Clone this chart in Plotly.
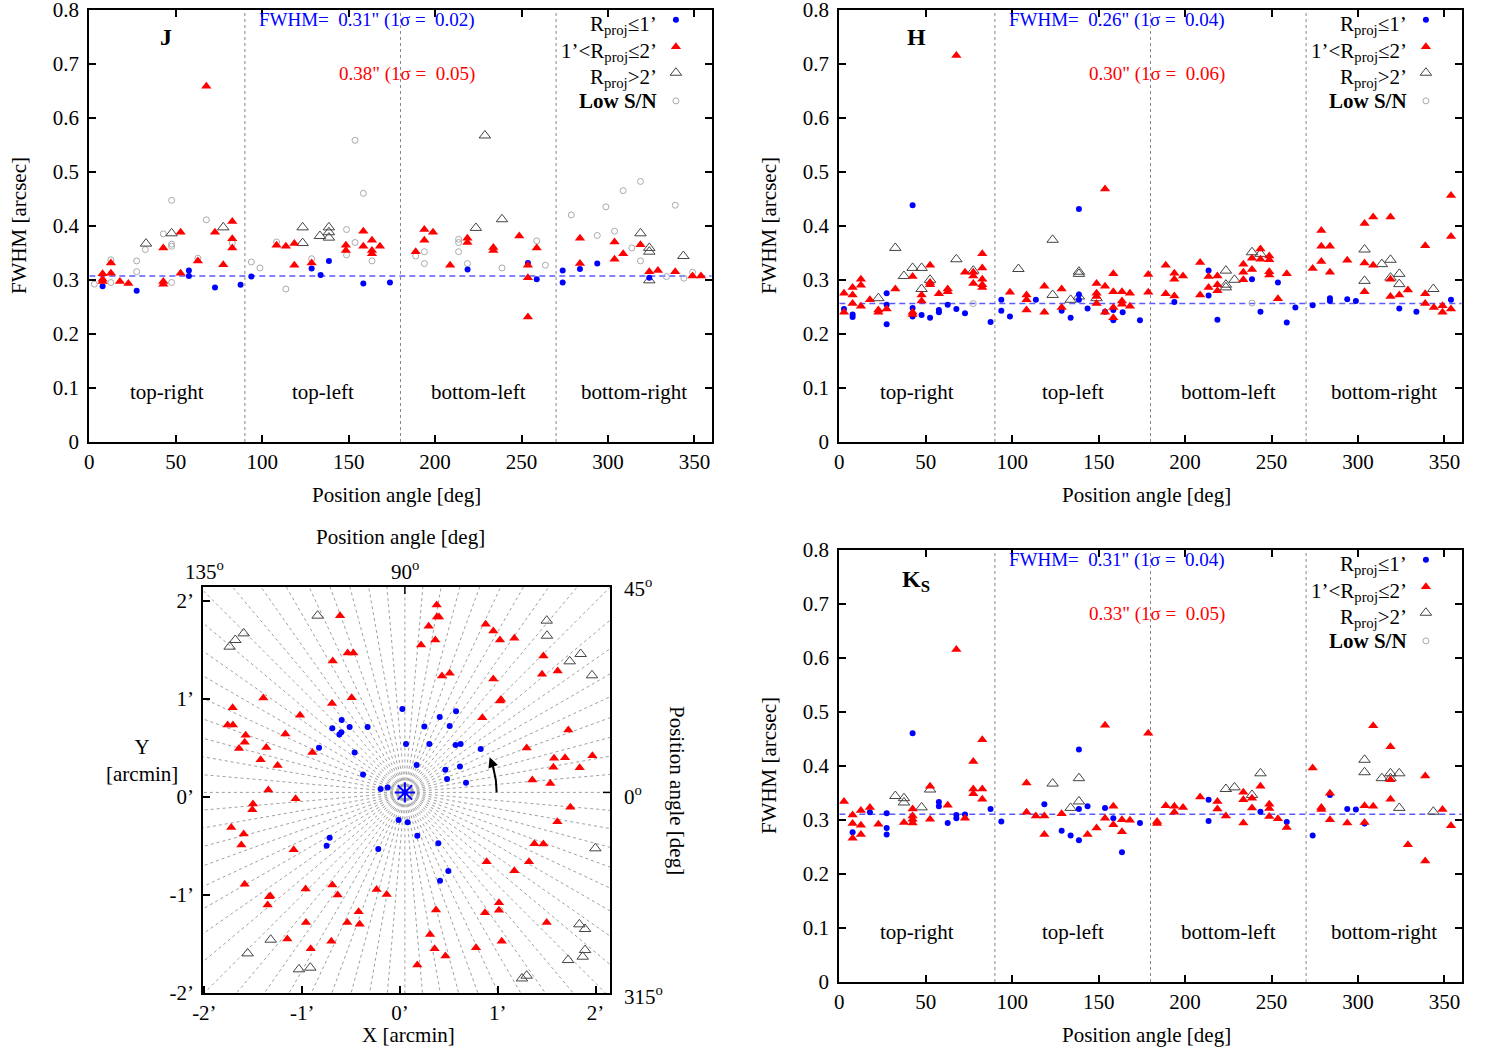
import numpy as np
import plotly.graph_objects as go

FONT = "Liberation Serif"
W, H = 1500, 1050

# ---------------- data: (position angle [deg], FWHM [arcsec]) ----------------
J_inner = [(7.7,0.288),(27.4,0.280),(57.6,0.317),(57.6,0.307),(72.7,0.286),(87.5,0.291),(93.7,0.306),
           (128.6,0.321),(133.8,0.309),(138.6,0.335),(158.5,0.293),(173.9,0.295),(218.8,0.319),(253.7,0.331),
           (258.8,0.301),(273.8,0.317),(273.8,0.295),(283.8,0.320),(293.8,0.330),(323.9,0.304)]
J_mid = [(7.7,0.311),(7.7,0.301),(7.7,0.297),(12.5,0.331),(12.5,0.312),(17.7,0.297),(22.6,0.293),(42.8,0.359),
         (42.8,0.297),(42.8,0.292),(52.8,0.388),(52.8,0.312),(62.8,0.335),(67.7,0.658),(72.7,0.388),(77.5,0.328),
         (82.7,0.408),(82.7,0.376),(82.7,0.359),(108.3,0.364),(113.7,0.362),(118.6,0.367),(118.6,0.327),
         (128.6,0.331),(148.4,0.364),(148.4,0.354),(158.5,0.390),(158.5,0.362),(163.5,0.373),(163.5,0.354),
         (163.5,0.348),(168.1,0.362),(188.8,0.352),(193.8,0.373),(193.8,0.393),(198.8,0.388),(208.7,0.327),
         (218.7,0.377),(218.7,0.369),(233.7,0.360),(233.7,0.354),(248.7,0.381),(253.7,0.327),(253.7,0.304),
         (253.7,0.231),(258.8,0.359),(283.8,0.377),(283.8,0.330),(303.8,0.370),(303.8,0.338),(308.8,0.348),
         (318.8,0.365),(323.9,0.315),(328.9,0.317),(338.9,0.315),(348.9,0.307),(353.8,0.307)]
J_far = [(32.8,0.367),(47.6,0.386),(77.5,0.397),(123.4,0.397),(123.4,0.368),(133.4,0.381),(138.6,0.397),
         (138.6,0.388),(138.6,0.378),(223.6,0.396),(228.8,0.567),(238.7,0.412),(318.8,0.386),(323.9,0.359),
         (323.9,0.352),(323.9,0.299),(343.6,0.344)]
J_low = [(2.9,0.292),(12.5,0.337),(12.5,0.295),(27.4,0.335),(27.4,0.315),(32.4,0.356),(42.8,0.385),(47.6,0.447),
         (47.6,0.366),(47.6,0.362),(47.6,0.295),(62.8,0.340),(67.7,0.411),(82.7,0.368),(93.7,0.333),(98.7,0.322),
         (108.3,0.370),(113.7,0.283),(128.6,0.339),(148.8,0.393),(148.8,0.346),(153.7,0.558),(153.7,0.369),
         (158.5,0.460),(163.5,0.335),(188.8,0.344),(193.8,0.352),(193.8,0.330),(213.6,0.375),(213.6,0.369),
         (213.6,0.352),(218.7,0.330),(238.7,0.322),(258.8,0.372),(263.8,0.327),(278.8,0.420),(293.8,0.382),
         (298.8,0.435),(303.8,0.390),(308.8,0.465),(313.8,0.359),(318.8,0.482),(318.8,0.335),(333.8,0.306),
         (338.9,0.438),(343.9,0.303),(348.9,0.314)]

H_inner = [(2.7,0.246),(7.7,0.236),(7.7,0.231),(27.4,0.275),(27.4,0.254),(27.4,0.218),(42.4,0.438),(42.4,0.248),
           (42.4,0.232),(47.6,0.235),(52.5,0.230),(57.6,0.244),(57.6,0.240),(62.7,0.254),(67.7,0.246),(72.7,0.238),
           (87.5,0.222),(93.7,0.263),(93.7,0.243),(98.7,0.232),(113.7,0.263),(128.6,0.243),(133.8,0.230),
           (138.6,0.431),(138.6,0.273),(138.6,0.263),(143.6,0.247),(153.7,0.241),(158.5,0.244),(158.5,0.225),
           (163.9,0.240),(173.9,0.225),(193.8,0.259),(213.6,0.317),(213.6,0.271),(218.7,0.226),(238.7,0.301),
           (243.6,0.241),(253.7,0.295),(258.8,0.221),(263.8,0.249),(273.8,0.253),(283.8,0.266),(283.8,0.261),
           (293.8,0.264),(298.8,0.261),(323.9,0.247),(333.8,0.241),(353.8,0.263)]
H_mid = [(2.7,0.275),(2.7,0.240),(7.7,0.286),(7.7,0.272),(7.7,0.256),(12.5,0.301),(12.5,0.290),(12.5,0.251),
         (17.7,0.263),(22.6,0.244),(22.6,0.240),(27.4,0.246),(32.4,0.283),(42.4,0.306),(42.4,0.240),(42.4,0.236),
         (47.6,0.272),(47.6,0.261),(52.5,0.327),(52.5,0.295),(52.5,0.291),(57.6,0.274),(62.7,0.283),(62.7,0.278),
         (67.7,0.715),(72.7,0.314),(77.5,0.314),(77.5,0.307),(77.5,0.293),(82.7,0.348),(82.7,0.322),(82.7,0.301),
         (82.7,0.291),(82.7,0.286),(98.7,0.277),(108.3,0.272),(108.3,0.263),(108.3,0.244),(118.6,0.288),
         (118.6,0.240),(128.6,0.283),(128.6,0.249),(148.8,0.293),(148.8,0.275),(148.8,0.269),(148.8,0.256),
         (153.7,0.468),(153.7,0.288),(153.7,0.240),(158.5,0.311),(158.5,0.278),(158.5,0.249),(158.5,0.230),
         (163.5,0.278),(163.5,0.261),(163.5,0.255),(168.1,0.275),(168.1,0.251),(178.7,0.310),(178.7,0.277),
         (188.8,0.327),(188.8,0.274),(193.8,0.312),(193.8,0.301),(193.8,0.270),(198.8,0.307),(208.7,0.332),
         (208.7,0.272),(213.6,0.306),(213.6,0.286),(218.7,0.307),(218.7,0.291),(218.7,0.280),(233.7,0.329),
         (233.7,0.314),(233.7,0.300),(238.7,0.340),(238.7,0.319),(243.6,0.357),(243.6,0.338),(248.7,0.344),
         (248.7,0.337),(248.7,0.315),(248.7,0.309),(253.7,0.265),(258.8,0.311),(273.8,0.321),(278.8,0.391),
         (278.8,0.362),(278.8,0.334),(283.8,0.362),(283.8,0.314),(293.8,0.336),(303.8,0.404),(303.8,0.331),
         (303.8,0.278),(308.8,0.416),(308.8,0.327),(318.8,0.416),(318.8,0.301),(318.8,0.269),(323.9,0.272),
         (328.9,0.281),(338.9,0.363),(338.9,0.274),(338.9,0.256),(343.9,0.249),(348.9,0.252),(348.9,0.240),
         (353.8,0.456),(353.8,0.380),(353.8,0.246)]
H_far = [(22.6,0.266),(32.4,0.359),(37.4,0.307),(42.4,0.322),(47.6,0.322),(47.6,0.283),(52.5,0.300),(67.7,0.338),
         (77.5,0.317),(103.6,0.320),(123.4,0.374),(123.4,0.272),(133.8,0.263),(138.6,0.315),(138.6,0.311),
         (138.6,0.269),(148.8,0.266),(223.6,0.317),(223.6,0.291),(223.6,0.286),(228.6,0.300),(238.7,0.351),
         (243.6,0.348),(303.8,0.356),(303.8,0.298),(313.8,0.329),(318.8,0.337),(318.8,0.304),(323.9,0.311),
         (323.9,0.292),(343.6,0.283)]
H_low = [(77.5,0.256),(238.7,0.257)]

K_inner = [(7.7,0.277),(17.7,0.314),(27.4,0.312),(27.4,0.285),(27.4,0.273),(42.4,0.460),(42.4,0.298),(57.6,0.333),
           (57.6,0.325),(62.7,0.294),(67.7,0.309),(67.7,0.303),(72.7,0.310),(87.5,0.320),(93.7,0.297),(118.6,0.329),
           (128.6,0.280),(133.8,0.271),(138.6,0.430),(138.6,0.320),(138.6,0.262),(143.6,0.325),(153.7,0.322),
           (158.5,0.303),(163.5,0.240),(173.9,0.294),(213.6,0.337),(213.6,0.298),(243.6,0.315),(258.8,0.296),
           (273.8,0.271),(283.8,0.346),(293.8,0.320),(298.8,0.319),(303.8,0.293)]
K_mid = [(2.7,0.334),(7.7,0.309),(7.7,0.293),(7.7,0.266),(12.5,0.317),(12.5,0.290),(12.5,0.273),(17.7,0.323),
         (22.6,0.292),(37.4,0.295),(42.4,0.320),(42.4,0.307),(42.4,0.301),(42.4,0.294),(52.5,0.362),(52.5,0.301),
         (62.7,0.327),(67.7,0.615),(72.7,0.303),(77.5,0.408),(77.5,0.357),(77.5,0.348),(82.7,0.448),(82.7,0.357),
         (82.7,0.338),(108.3,0.368),(108.3,0.314),(113.7,0.307),(118.6,0.307),(118.6,0.273),(128.6,0.311),
         (143.6,0.273),(148.8,0.285),(153.7,0.475),(153.7,0.303),(158.5,0.325),(158.5,0.291),(163.5,0.300),
         (163.5,0.278),(168.1,0.299),(178.7,0.460),(183.8,0.297),(183.8,0.293),(188.8,0.326),(193.8,0.325),
         (193.8,0.314),(198.8,0.323),(208.7,0.342),(218.7,0.334),(218.7,0.320),(223.6,0.307),(233.7,0.351),
         (233.7,0.337),(233.7,0.294),(238.7,0.340),(238.7,0.322),(243.6,0.362),(248.7,0.329),(248.7,0.321),
         (248.7,0.306),(253.7,0.302),(258.8,0.286),(273.8,0.396),(278.8,0.323),(278.8,0.319),(283.8,0.349),
         (283.8,0.300),(293.8,0.294),(303.8,0.326),(303.8,0.295),(308.8,0.474),(308.8,0.325),(318.8,0.435),
         (318.8,0.374),(318.8,0.338),(328.9,0.254),(338.9,0.381),(338.9,0.224),(348.9,0.319),(353.8,0.289)]
K_far = [(32.4,0.344),(37.4,0.340),(37.4,0.332),(47.6,0.323),(52.5,0.356),(123.4,0.367),(133.8,0.322),
         (138.6,0.377),(138.6,0.334),(223.6,0.357),(228.6,0.360),(238.7,0.346),(243.6,0.386),(303.8,0.411),
         (303.8,0.388),(313.8,0.377),(318.8,0.386),(318.8,0.377),(323.9,0.386),(323.9,0.322),(343.6,0.315)]
K_low = []

# summary statistics shown on each panel
J_stats = dict(mean=0.307, inner="0.31", inner_sig="0.02", mid="0.38", mid_sig="0.05")
H_stats = dict(mean=0.256, inner="0.26", inner_sig="0.04", mid="0.30", mid_sig="0.06")
K_stats = dict(mean=0.3105, inner="0.31", inner_sig="0.04", mid="0.33", mid_sig="0.05")

x_ticks = [0, 50, 100, 150, 200, 250, 300, 350]
y_ticks = [0, 0.1, 0.2, 0.3, 0.4, 0.5, 0.6, 0.7, 0.8]
y_ticktext = ["0", "0.1", "0.2", "0.3", "0.4", "0.5", "0.6", "0.7", "0.8"]
quadrant_pa = [90, 180, 270]
quadrant_names = ["top-right", "top-left", "bottom-left", "bottom-right"]
quadrant_centres = [45, 135, 225, 315]

# ---------------- map panel: (X, Y) [arcmin] ----------------
map_centre = (0.05, 0.044)
map_inner = [(0.024,0.896),(0.061,0.539),(0.170,0.324),(-0.378,0.228),(-0.198,0.078),(-0.126,0.095),
             (-0.014,-0.239),(0.078,-0.262),(0.177,-0.399),(-0.222,-0.535),(-0.719,-0.419),(-0.750,-0.501),
             (0.392,-0.477),(0.494,-0.760),(0.409,-0.859),(-0.828,0.501),(-0.464,0.453),(-0.692,0.699),
             (-0.596,0.784),(-0.515,0.712),(-0.331,0.712),(-0.620,0.637),(-0.600,0.658),(0.249,0.719),
             (0.406,0.815),(0.508,0.723),(0.573,0.873),(0.300,0.539),(0.569,0.528),(0.620,0.539),(0.825,0.487),
             (0.464,0.276),(0.613,0.310),(0.481,0.181),(0.675,0.143)]
map_mid = [(-0.613,1.851),(0.375,1.960),(0.378,1.837),(0.399,1.837),(0.293,1.742),(0.361,1.602),(0.215,1.551),
           (0.876,1.762),(0.954,1.694),(1.022,1.602),(1.169,1.619),(1.466,1.438),(1.612,1.285),(1.452,1.251),
           (0.954,1.203),(1.033,0.995),(1.022,0.978),(0.429,1.234),(0.508,1.261),(0.842,0.808),(1.721,0.682),
           (1.295,0.498),(1.575,0.392),(1.687,0.399),(1.967,0.419),(1.568,0.300),(1.837,0.297),(1.353,0.170),
           (1.537,0.136),(1.742,-0.109),(1.609,-0.256),(1.374,-0.481),(1.466,-0.484),(1.319,-0.665),
           (0.886,-0.665),(1.169,-0.757),(1.500,-1.285),(1.012,-1.084),(1.012,-1.162),(0.869,-1.186),
           (1.040,-1.479),(0.777,-1.544),(0.368,-1.159),(0.307,-1.408),(0.354,-1.554),(0.464,-1.629),
           (0.177,-1.721),(-0.136,-0.999),(-0.239,-0.948),(-0.423,-1.176),(-0.412,-1.305),(-0.539,-1.285),
           (-0.702,-1.479),(-0.913,-1.554),(-0.961,-1.285),(-1.152,-1.455),(-1.353,-1.108),(-1.339,-1.022),
           (-1.326,-1.016),(-0.965,-0.944),(-0.692,-0.903),(-0.637,-1.005),(-1.588,-0.896),(-1.087,-0.542),
           (-1.622,-0.494),(-1.598,-0.382),(-1.725,-0.314),(-1.510,-0.133),(-1.503,-0.075),(-1.346,0.068),
           (-1.067,-0.020),(-1.425,0.378),(-1.251,0.320),(-1.646,0.494),(-1.588,0.556),(-1.578,0.627),
           (-1.367,0.504),(-1.172,0.641),(-0.896,0.453),(-1.762,0.733),(-1.708,0.733),(-1.711,0.910),
           (-1.397,1.009),(-1.022,0.832),(-0.695,0.954),(-0.494,1.012),(-0.688,1.387),(-0.535,1.469),
           (-0.477,1.469)]
map_far = [(-0.842,1.851),(-1.598,1.670),(-1.684,1.602),(-1.742,1.534),(1.500,1.800),(1.503,1.646),(1.847,1.459),
           (1.735,1.384),(1.963,1.241),(1.997,-0.528),(1.834,-1.305),(1.892,-1.353),(1.892,-1.568),
           (1.868,-1.636),(1.718,-1.670),(1.247,-1.858),(1.295,-1.830),(-0.917,-1.748),(-1.033,-1.765),
           (-1.322,-1.462),(-1.558,-1.602)]
map_ticks = [-2, -1, 0, 1, 2]
map_ticktext = ["-2’", "-1’", "0’", "1’", "2’"]
ray_step_deg = 5

BLUE = "#0000ff"
RED = "#ff0000"
FAR = "#444444"
LOW = "#aaaaaa"


def P(x, y):
    return x / W, 1 - y / H


fig = go.Figure()


def axis_common(**kw):
    d = dict(showline=True, linecolor="black", linewidth=2, ticks="inside", ticklen=7, tickwidth=1.5,
             tickcolor="black", showgrid=False, zeroline=False, automargin=False, ticklabeloverflow="allow",
             tickfont=dict(family=FONT, size=21, color="black"))
    d.update(kw)
    return d


def unz(lst):
    if not lst:
        return [], []
    a, b = zip(*lst)
    return list(a), list(b)


panels = [
    ("J", "x", "y", "xaxis", "yaxis", (89.3, 711.7), (9.5, 442), J_inner, J_mid, J_far, J_low, J_stats, "<b>J</b>"),
    ("H", "x2", "y2", "xaxis2", "yaxis2", (839.3, 1461.7), (9.5, 442), H_inner, H_mid, H_far, H_low, H_stats, "<b>H</b>"),
    ("K", "x4", "y4", "xaxis4", "yaxis4", (839.3, 1461.7), (549.5, 982), K_inner, K_mid, K_far, K_low, K_stats,
     "<b>K<sub>S</sub></b>"),
]

layout_axes = {}
shapes = []
annotations = []


def ann_px(x, y, text, **kw):
    px_, py_ = P(x, y)
    d = dict(x=px_, y=py_, xref="paper", yref="paper", text=text, showarrow=False,
             xanchor="center", yanchor="middle",
             font=dict(family=FONT, size=21, color="black"))
    d.update(kw)
    annotations.append(d)


for (name, xr, yr, xk, yk, xd, yd, inner, mid, far, low, st, lab) in panels:
    layout_axes[xk] = axis_common(domain=[xd[0] / W, xd[1] / W], range=[0, 360], tickvals=x_ticks,
                                  mirror="ticks", anchor=yr)
    layout_axes[yk] = axis_common(domain=[1 - yd[1] / H, 1 - yd[0] / H], range=[0, 0.8], tickvals=y_ticks,
                                  ticktext=y_ticktext, mirror="ticks", anchor=xr, ticklabelstandoff=4)
    # quadrant separators
    for q in quadrant_pa:
        shapes.append(dict(type="line", xref=xr, yref=yr, x0=q, x1=q, y0=0, y1=0.8,
                           line=dict(color="#888888", width=1, dash="dot"), layer="below"))
    # mean line
    shapes.append(dict(type="line", xref=xr, yref=yr, x0=0, x1=360, y0=st["mean"], y1=st["mean"],
                       line=dict(color="#5a5aff", width=1.5, dash="6px,4px"), layer="below"))
    # data
    for data, sym, col, size, lw in [(low, "circle-open", LOW, 6, 1), (far, "triangle-up-open", FAR, 10, 1),
                                     (inner, "circle", BLUE, 6, 0), (mid, "triangle-up", RED, 9, 0)]:
        xs, ys = unz(data)
        if xs:
            fig.add_trace(go.Scatter(x=xs, y=ys, mode="markers", xaxis=xr, yaxis=yr, showlegend=False,
                                     marker=dict(symbol=sym, size=size, color=col, line=dict(width=lw, color=col))))
    # legend
    leg_y = [0.781, 0.731, 0.683, 0.631]
    leg_txt = ["R<sub>proj</sub>≤1’", "1’&lt;R<sub>proj</sub>≤2’", "R<sub>proj</sub>&gt;2’", "<b>Low S/N</b>"]
    leg_sty = [("circle", BLUE, 6, 0), ("triangle-up", RED, 9, 0), ("triangle-up-open", FAR, 10, 1),
               ("circle-open", LOW, 6, 1)]
    for ly, lt, (sym, col, size, lw) in zip(leg_y, leg_txt, leg_sty):
        fig.add_trace(go.Scatter(x=[339.3], y=[ly], mode="markers", xaxis=xr, yaxis=yr, showlegend=False,
                                 marker=dict(symbol=sym, size=size, color=col, line=dict(width=lw, color=col))))
        sub = "sub" in lt
        annotations.append(dict(x=329.5, y=ly, xref=xr, yref=yr, text=lt, showarrow=False, xanchor="right",
                                yanchor="middle", yshift=-5 if sub else 0,
                                font=dict(family=FONT, size=21, color="black")))
    # stats texts
    annotations.append(dict(x=224, y=0.781, xref=xr, yref=yr, xanchor="right", yanchor="middle", showarrow=False,
                            text=f"FWHM=  {st['inner']}\" (1σ =  {st['inner_sig']})",
                            font=dict(family=FONT, size=19, color=BLUE)))
    annotations.append(dict(x=224, y=0.680, xref=xr, yref=yr, xanchor="right", yanchor="middle", showarrow=False,
                            text=f"{st['mid']}\" (1σ =  {st['mid_sig']})",
                            font=dict(family=FONT, size=19, color=RED)))
    # quadrant names
    for qn, qc in zip(quadrant_names, quadrant_centres):
        annotations.append(dict(x=qc, y=0.092, xref=xr, yref=yr, text=qn, showarrow=False,
                                font=dict(family=FONT, size=21, color="black")))
    # band label
    annotations.append(dict(x=44.5, y=0.75, xref=xr, yref=yr, text=lab, showarrow=False,
                            yshift=-4 if name == "K" else 0,
                            font=dict(family=FONT, size=24, color="black")))
    # axis titles
    cx = (xd[0] + xd[1]) / 2
    ann_px(cx - 4, yd[1] + 53, "Position angle [deg]")
    ann_px(xd[0] - 71, (yd[0] + yd[1]) / 2, "FWHM [arcsec]", textangle=-90)

# ---------------- map panel ----------------
mx0, mx1, my0, my1 = 203.3, 610.0, 587.0, 993.0
layout_axes["xaxis3"] = axis_common(domain=[mx0 / W, mx1 / W], range=[-2.011, 2.147], tickvals=map_ticks,
                                    ticktext=map_ticktext, mirror=True, anchor="y3")
layout_axes["yaxis3"] = axis_common(domain=[1 - my1 / H, 1 - my0 / H], range=[-2.007, 2.144], tickvals=map_ticks,
                                    ticktext=map_ticktext, mirror=True, anchor="x3", ticklabelstandoff=3)

cxm, cym = map_centre
rx, ry = [], []
for a in np.arange(0, 360, ray_step_deg):
    t = np.radians(a)
    rx += [cxm, cxm + 4 * np.cos(t), None]
    ry += [cym, cym + 4 * np.sin(t), None]
fig.add_trace(go.Scatter(x=rx, y=ry, mode="lines", xaxis="x3", yaxis="y3", showlegend=False,
                         line=dict(color="#a0a0a0", width=1, dash="3px,3px"), hoverinfo="skip"))

for data, sym, col, size, lw in [(map_far, "triangle-up-open", FAR, 10, 1), (map_inner, "circle", BLUE, 6, 0),
                                 (map_mid, "triangle-up", RED, 9, 0)]:
    xs, ys = unz(data)
    fig.add_trace(go.Scatter(x=xs, y=ys, mode="markers", xaxis="x3", yaxis="y3", showlegend=False,
                             marker=dict(symbol=sym, size=size, color=col, line=dict(width=lw, color=col))))
fig.add_trace(go.Scatter(x=[cxm], y=[cym], mode="markers", xaxis="x3", yaxis="y3", showlegend=False,
                         marker=dict(symbol="asterisk-open", size=17, color=BLUE, line=dict(width=2, color=BLUE))))

# curved arrow (direction of increasing position angle)
arc_r = 0.938
arc_t = np.radians(np.linspace(0, 19, 30))
fig.add_trace(go.Scatter(x=cxm + arc_r * np.cos(arc_t), y=cym + arc_r * np.sin(arc_t), mode="lines",
                         xaxis="x3", yaxis="y3", showlegend=False, line=dict(color="black", width=2)))
t1, t0 = np.radians(22.5), np.radians(18.5)
annotations.append(dict(x=cxm + arc_r * np.cos(t1), y=cym + arc_r * np.sin(t1), xref="x3", yref="y3",
                        ax=cxm + arc_r * np.cos(t0), ay=cym + arc_r * np.sin(t0), axref="x3", ayref="y3",
                        showarrow=True, arrowhead=2, arrowsize=1, arrowwidth=2, arrowcolor="black", text=""))

# single ticks on top/right sides at the centre
shapes.append(dict(type="line", xref="x3", yref="y3 domain", x0=cxm, x1=cxm, y0=1, y1=1 - 7 / 406,
                   line=dict(color="black", width=1.5)))
shapes.append(dict(type="line", xref="x3 domain", yref="y3", x0=1, x1=1 - 7 / 407, y0=cym, y1=cym,
                   line=dict(color="black", width=1.5)))

ann_px(400, 537, "Position angle [deg]")
ann_px(204, 570, "135<sup>o</sup>")
ann_px(405, 570, "90<sup>o</sup>")
ann_px(622, 587, "45<sup>o</sup>", xanchor="left")
ann_px(622, 795, "0<sup>o</sup>", xanchor="left")
ann_px(622, 995, "315<sup>o</sup>", xanchor="left")
ann_px(677, 790, "Position angle [deg]", textangle=90)
ann_px(142, 760, "Y<br>[arcmin]")
ann_px(408, 1035, "X [arcmin]")

fig.update_layout(template="none", width=W, height=H, margin=dict(l=0, r=0, t=0, b=0), paper_bgcolor="white",
                  plot_bgcolor="white", showlegend=False, shapes=shapes, annotations=annotations,
                  font=dict(family=FONT, size=21, color="black"), **layout_axes)

fig.write_html("out.html")
